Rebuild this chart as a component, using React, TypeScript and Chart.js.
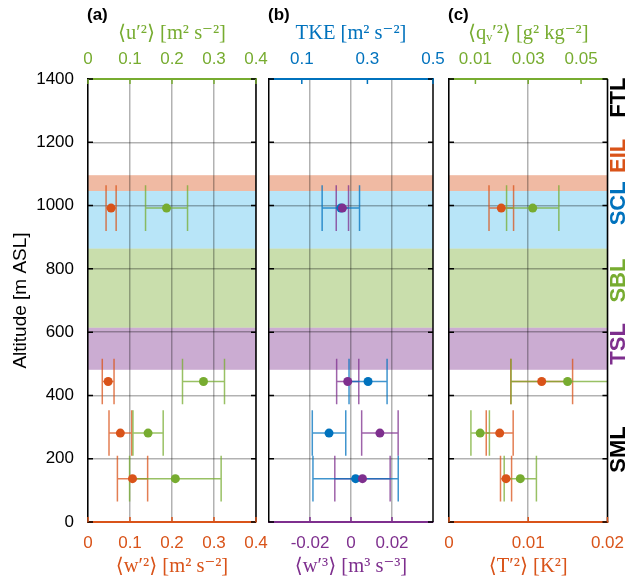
import React, { useEffect, useRef } from 'react';
import { Chart, registerables } from 'chart.js';

Chart.register(...registerables);

const ORANGE = '#D95319';
const GREEN = '#77AC30';
const BLUE = '#0072BD';
const PURPLE = '#7E2F8E';
const GRID = 'rgba(0,0,0,0.3)';
const SANS = '"Liberation Sans", Arial, Helvetica, sans-serif';
const SERIF = '"Liberation Serif", "DejaVu Serif", serif';

// ---------- data ----------
const altitudes = [992, 444, 281, 137];
const yTicks = [0, 200, 400, 600, 800, 1000, 1200, 1400];

const w2 = [0.055, 0.048, 0.077, 0.106];
const w2Err = [0.012, 0.014, 0.027, 0.036];
const u2 = [0.187, 0.275, 0.143, 0.208];
const u2Err = [0.05, 0.05, 0.036, 0.109];

const tke = [0.219, 0.302, 0.183, 0.264];
const tkeErr = [0.057, 0.058, 0.051, 0.13];
const w3 = [-0.0042, -0.0016, 0.0141, 0.0056];
const w3Err = [0.003, 0.0054, 0.0089, 0.0135];

const T2 = [0.0066, 0.0117, 0.0064, 0.0072];
const T2Err = [0.00155, 0.0039, 0.0017, 0.0007];
const q2 = [0.0317, 0.0449, 0.0118, 0.027];
const q2Err = [0.0099, 0.0214, 0.0035, 0.0061];

const aBottomTicks = [0, 0.1, 0.2, 0.3, 0.4];
const aTopTicks = [0, 0.1, 0.2, 0.3, 0.4];
const bBottomTicks = [-0.02, 0, 0.02];
const bTopTicks = [0.1, 0.3, 0.5];
const cBottomTicks = [0, 0.01, 0.02];
const cTopTicks = [0.01, 0.03, 0.05];

const bandNames = ['EIL', 'SCL', 'SBL', 'TSL'];
const bandBottom = [1046, 864, 614, 481];
const bandTop = [1096, 1046, 864, 614];
const bandColors = [
  'rgba(217,83,25,0.4)',
  'rgba(77,190,238,0.4)',
  'rgba(119,172,48,0.4)',
  'rgba(126,47,142,0.4)',
];

const layerNames = ['FTL', 'EIL', 'SCL', 'SBL', 'TSL', 'SML'];
const layerColors = ['#000000', ORANGE, BLUE, GREEN, PURPLE, '#000000'];
const layerLabelAlt = [1341, 1157, 1007, 763, 563, 229];

// ---------- layout ----------
const W = 635;
const H = 580;
const TOP_H = 79;
const BOT_H = 58;
const CAP = 72; // half height of error-bar caps, in metres

const panels = [
  {
    letter: '(a)', left: 88, right: 256, showY: true, showLayers: false,
    bottom: { min: 0, max: 0.4, ticks: aBottomTicks, color: ORANGE, title: '⟨w′²⟩ [m² s⁻²]' },
    top: { min: 0, max: 0.4, ticks: aTopTicks, color: GREEN, title: '⟨u′²⟩ [m² s⁻²]' },
    series: [
      { values: w2, errs: w2Err, color: ORANGE, axis: 'x' },
      { values: u2, errs: u2Err, color: GREEN, axis: 'x2' },
    ],
  },
  {
    letter: '(b)', left: 269, right: 433, showY: false, showLayers: false,
    bottom: { min: -0.04, max: 0.04, ticks: bBottomTicks, color: PURPLE, title: '⟨w′³⟩ [m³ s⁻³]' },
    top: { min: 0, max: 0.5, ticks: bTopTicks, color: BLUE, title: 'TKE [m² s⁻²]' },
    series: [
      { values: w3, errs: w3Err, color: PURPLE, axis: 'x' },
      { values: tke, errs: tkeErr, color: BLUE, axis: 'x2' },
    ],
  },
  {
    letter: '(c)', left: 449, right: 615, showY: false, showLayers: true,
    bottom: { min: 0, max: 0.02, ticks: cBottomTicks, color: ORANGE, title: '⟨T′²⟩ [K²]' },
    top: { min: 0, max: 0.06, ticks: cTopTicks, color: GREEN, title: '⟨qᵥ′²⟩ [g² kg⁻²]' },
    series: [
      { values: T2, errs: T2Err, color: ORANGE, axis: 'x' },
      { values: q2, errs: q2Err, color: GREEN, axis: 'x2' },
    ],
  },
];

const fmt = (v: number) => String(parseFloat(Number(v).toFixed(6)));

function withAlpha(hex: string, a: number) {
  const r = parseInt(hex.slice(1, 3), 16);
  const g = parseInt(hex.slice(3, 5), 16);
  const b = parseInt(hex.slice(5, 7), 16);
  return `rgba(${r},${g},${b},${a})`;
}

function makeChart(canvas: HTMLCanvasElement, p: any) {
  const panelPlugin = {
    id: 'panelDeco',
    beforeDraw(chart: any) {
      const { ctx, chartArea: a, scales } = chart;
      const y = scales.y;
      ctx.save();
      ctx.beginPath();
      ctx.rect(a.left, a.top, a.right - a.left, a.bottom - a.top);
      ctx.clip();
      for (let i = 0; i < bandNames.length; i++) {
        const y1 = y.getPixelForValue(bandTop[i]);
        const y2 = y.getPixelForValue(bandBottom[i]);
        ctx.fillStyle = bandColors[i];
        ctx.fillRect(a.left, y1, a.right - a.left, y2 - y1);
      }
      ctx.restore();
    },
    beforeDatasetsDraw(chart: any) {
      const { ctx, chartArea: a, scales } = chart;
      const y = scales.y;
      ctx.save();
      ctx.beginPath();
      ctx.rect(a.left, a.top, a.right - a.left, a.bottom - a.top);
      ctx.clip();
      chart.data.datasets.forEach((ds: any) => {
        const xs = scales[ds.xAxisID];
        ctx.strokeStyle = withAlpha(ds.baseColor, 0.75);
        ctx.lineWidth = 1.5;
        ds.data.forEach((pt: any, i: number) => {
          const e = ds.errs[i];
          const x1 = xs.getPixelForValue(pt.x - e);
          const x2 = xs.getPixelForValue(pt.x + e);
          const yc = y.getPixelForValue(pt.y);
          const yt = y.getPixelForValue(pt.y + CAP);
          const yb = y.getPixelForValue(pt.y - CAP);
          ctx.beginPath();
          ctx.moveTo(x1, yc);
          ctx.lineTo(x2, yc);
          ctx.moveTo(x1, yt);
          ctx.lineTo(x1, yb);
          ctx.moveTo(x2, yt);
          ctx.lineTo(x2, yb);
          ctx.stroke();
        });
      });
      ctx.restore();
    },
    afterDraw(chart: any) {
      const { ctx, chartArea: a, scales } = chart;
      ctx.save();
      ctx.strokeStyle = '#000';
      ctx.lineWidth = 1.5;
      ctx.beginPath();
      ctx.moveTo(a.right, a.top);
      ctx.lineTo(a.right, a.bottom);
      ctx.stroke();
      const TL = 5;
      yTicks.forEach((v) => {
        const py = scales.y.getPixelForValue(v);
        ctx.beginPath();
        ctx.moveTo(a.left, py);
        ctx.lineTo(a.left + TL, py);
        ctx.moveTo(a.right, py);
        ctx.lineTo(a.right - TL, py);
        ctx.stroke();
      });
      ctx.strokeStyle = p.bottom.color;
      p.bottom.ticks.forEach((v: number) => {
        const px = scales.x.getPixelForValue(v);
        ctx.beginPath();
        ctx.moveTo(px, a.bottom);
        ctx.lineTo(px, a.bottom - TL);
        ctx.stroke();
      });
      ctx.strokeStyle = p.top.color;
      p.top.ticks.forEach((v: number) => {
        const px = scales.x2.getPixelForValue(v);
        ctx.beginPath();
        ctx.moveTo(px, a.top);
        ctx.lineTo(px, a.top + TL);
        ctx.stroke();
      });
      ctx.fillStyle = '#000';
      ctx.font = `bold 17px ${SANS}`;
      ctx.textAlign = 'left';
      ctx.textBaseline = 'middle';
      ctx.fillText(p.letter, a.left - 1, 15);
      if (p.showLayers) {
        ctx.font = `bold 22px ${SANS}`;
        ctx.textAlign = 'center';
        ctx.textBaseline = 'middle';
        layerNames.forEach((name, i) => {
          const py = scales.y.getPixelForValue(layerLabelAlt[i]);
          ctx.save();
          ctx.translate(a.right + 11, py);
          ctx.rotate(-Math.PI / 2);
          ctx.fillStyle = layerColors[i];
          ctx.fillText(name, 0, 0);
          ctx.restore();
        });
      }
      ctx.restore();
    },
  };

  const tickFont = { family: SANS, size: 17, lineHeight: 1.2 };
  const titleFont = { family: SERIF, size: 20.5, lineHeight: 1.2 };

  return new Chart(canvas, {
    type: 'scatter',
    data: {
      datasets: p.series.map((s: any) => ({
        data: s.values.map((v: number, i: number) => ({ x: v, y: altitudes[i] })),
        errs: s.errs,
        baseColor: s.color,
        xAxisID: s.axis,
        yAxisID: 'y',
        backgroundColor: s.color,
        borderColor: s.color,
        borderWidth: 0,
        pointRadius: 4.5,
        pointHoverRadius: 4.5,
      })),
    } as any,
    options: {
      responsive: false,
      animation: false,
      devicePixelRatio: 1,
      layout: { padding: { left: 0, top: 0, bottom: 0, right: W - p.right } },
      plugins: { legend: { display: false }, tooltip: { enabled: false } },
      scales: {
        x: {
          type: 'linear',
          position: 'bottom',
          min: p.bottom.min,
          max: p.bottom.max,
          afterBuildTicks: (s: any) => { s.ticks = p.bottom.ticks.map((v: number) => ({ value: v })); },
          afterFit: (s: any) => { s.height = BOT_H; },
          ticks: { color: p.bottom.color, font: tickFont, padding: 11, maxRotation: 0, autoSkip: false, callback: (v: any) => fmt(v) },
          grid: { color: GRID, lineWidth: 1.5, drawTicks: false },
          border: { color: p.bottom.color, width: 2 },
          title: { display: true, text: p.bottom.title, color: p.bottom.color, font: titleFont, padding: { top: 0, bottom: 1 } },
        },
        x2: {
          type: 'linear',
          position: 'top',
          min: p.top.min,
          max: p.top.max,
          afterBuildTicks: (s: any) => { s.ticks = p.top.ticks.map((v: number) => ({ value: v })); },
          afterFit: (s: any) => { s.height = TOP_H; },
          ticks: { color: p.top.color, font: tickFont, padding: 9, maxRotation: 0, autoSkip: false, callback: (v: any) => fmt(v) },
          grid: { display: false, drawTicks: false },
          border: { color: p.top.color, width: 2 },
          title: { display: true, text: p.top.title, color: p.top.color, font: titleFont, padding: { top: 21, bottom: 0 } },
        },
        y: {
          type: 'linear',
          position: 'left',
          min: 0,
          max: 1400,
          afterBuildTicks: (s: any) => { s.ticks = yTicks.map((v) => ({ value: v })); },
          afterFit: (s: any) => { s.width = p.left; },
          ticks: { display: p.showY, color: '#000', font: tickFont, padding: 14, callback: (v: any) => fmt(v) },
          grid: { color: GRID, lineWidth: 1.5, drawTicks: false },
          border: { color: '#000', width: 1.5 },
          title: { display: p.showY, text: 'Altitude [m ASL]', color: '#000', font: { family: SANS, size: 19, lineHeight: 1.2 }, padding: { top: 9, bottom: 0 } },
        },
      },
    } as any,
    plugins: [panelPlugin],
  });
}

export default function App() {
  const r0 = useRef<HTMLCanvasElement>(null);
  const r1 = useRef<HTMLCanvasElement>(null);
  const r2 = useRef<HTMLCanvasElement>(null);

  useEffect(() => {
    const refs = [r0, r1, r2];
    const charts = panels.map((p, i) => makeChart(refs[i].current as HTMLCanvasElement, p));
    return () => charts.forEach((c) => c.destroy());
  }, []);

  const cstyle: React.CSSProperties = { position: 'absolute', left: 0, top: 0, width: W, height: H };
  return (
    <div style={{ position: 'fixed', left: 0, top: 0, width: W, height: H, background: '#fff' }}>
      <canvas ref={r0} width={W} height={H} style={cstyle} />
      <canvas ref={r1} width={W} height={H} style={cstyle} />
      <canvas ref={r2} width={W} height={H} style={cstyle} />
    </div>
  );
}
